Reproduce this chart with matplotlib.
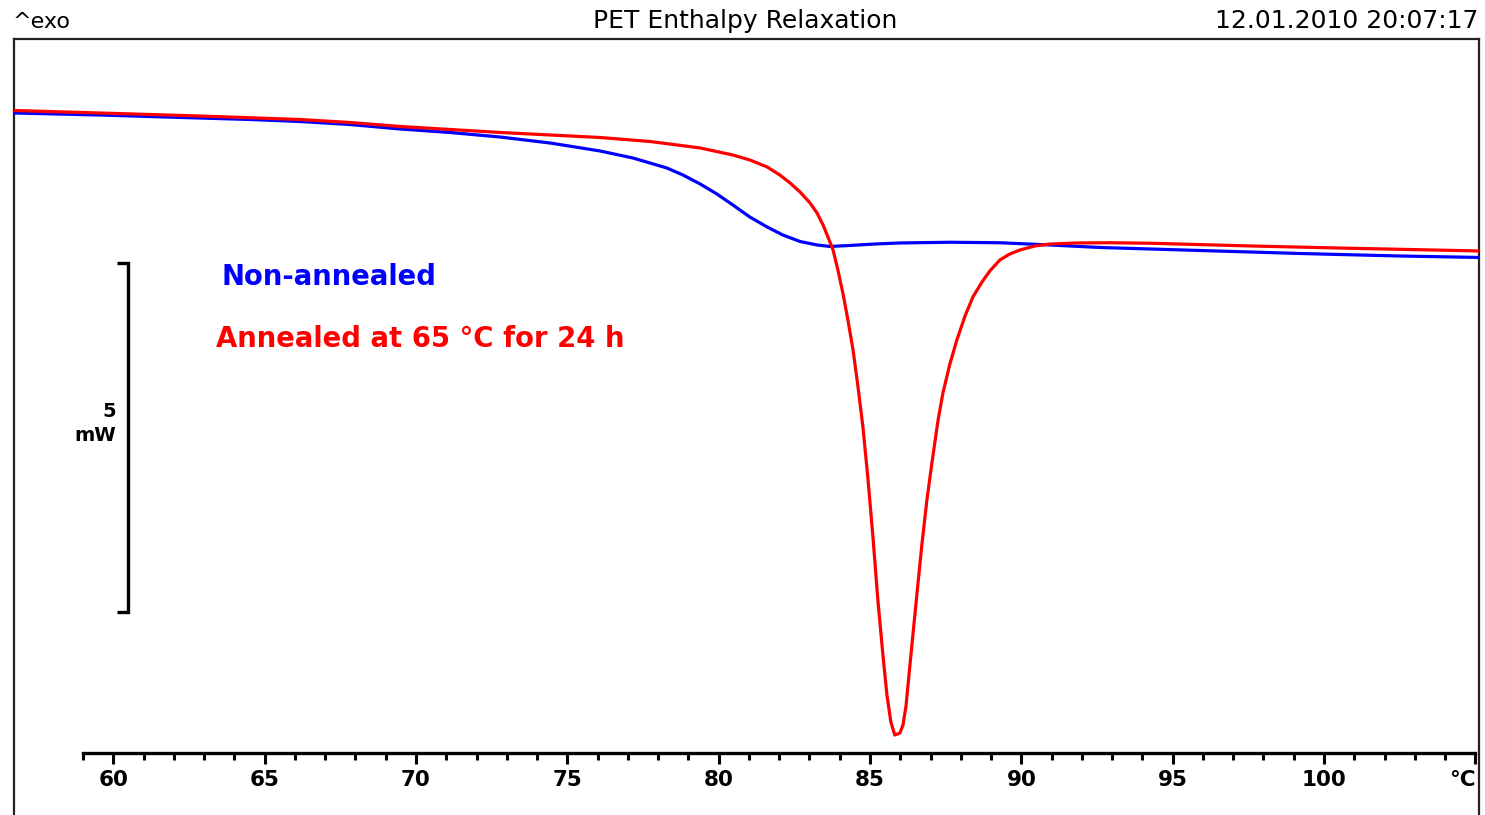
import matplotlib
matplotlib.use("Agg")
import matplotlib.pyplot as plt

# ---------------- data (temperature in °C, heat flow in mW) ----------------
blue_T = [56.72, 59.56, 62.86, 64.51, 66.17, 67.82, 69.47, 71.12, 72.78, 74.43,
          76.08, 77.17, 78.29, 78.82, 79.39, 79.94, 80.47, 81.03, 81.60, 82.12,
          82.69, 83.25, 83.68, 84.34, 85.16, 86.00, 87.65, 89.29, 90.95, 92.60,
          95.90, 99.21, 102.51, 105.15]
blue_mW = [-2.000, -2.029, -2.072, -2.093, -2.122, -2.165, -2.229, -2.279, -2.344, -2.430,
           -2.544, -2.645, -2.788, -2.888, -3.017, -3.160, -3.318, -3.490, -3.633, -3.748,
           -3.841, -3.891, -3.912, -3.898, -3.877, -3.862, -3.852, -3.859, -3.891, -3.927,
           -3.970, -4.013, -4.049, -4.070]

red_T = [56.72, 59.56, 62.86, 66.17, 67.82, 69.47, 72.78, 76.08, 77.73, 79.39,
         80.47, 81.03, 81.60, 82.02, 82.36, 82.69, 83.02, 83.25, 83.45, 83.61,
         83.78, 83.94, 84.11, 84.27, 84.44, 84.60, 84.77, 84.93, 85.10, 85.26,
         85.43, 85.56, 85.69, 85.82, 85.99, 86.09, 86.19, 86.32, 86.45, 86.58,
         86.72, 86.88, 87.05, 87.25, 87.41, 87.64, 87.87, 88.14, 88.40, 88.70,
         88.96, 89.29, 89.62, 89.95, 90.45, 90.95, 91.84, 92.93, 94.25, 97.55,
         100.86, 105.15]
red_mW = [-1.964, -2.000, -2.043, -2.093, -2.136, -2.193, -2.279, -2.351, -2.408, -2.501,
          -2.602, -2.673, -2.773, -2.888, -3.003, -3.132, -3.290, -3.433, -3.605, -3.776,
          -3.963, -4.249, -4.593, -4.965, -5.395, -5.911, -6.513, -7.229, -8.089, -8.978,
          -9.780, -10.339, -10.726, -10.912, -10.883, -10.768, -10.496, -9.908, -9.335, -8.762,
          -8.161, -7.545, -7.000, -6.398, -6.011, -5.595, -5.252, -4.908, -4.636, -4.421,
          -4.263, -4.106, -4.020, -3.963, -3.905, -3.877, -3.862, -3.859, -3.866, -3.905,
          -3.938, -3.977]

series_labels = ["Non-annealed", "Annealed at 65 °C for 24 h"]
major_ticks = [60, 65, 70, 75, 80, 85, 90, 95, 100, 105]
major_labels = ["60", "65", "70", "75", "80", "85", "90", "95", "100", "°C"]
minor_ticks = list(range(59, 106))
scale_value = 5          # mW
scale_label = "5\nmW"
title = "PET Enthalpy Relaxation"
left_header = "^exo"
right_header = "12.01.2010 20:07:17"

# ---------------- figure ----------------
W, H = 1485, 815
fig = plt.figure(figsize=(W / 100, H / 100), dpi=100)
fig.patch.set_facecolor("white")
FONT = "DejaVu Sans"

left = 14 / W
right = 1479 / W
top = 1 - 38.7 / H
ax = fig.add_axes([left, 0, right - left, top])
ax.set_xlim(56.72, 105.12)
ax.set_ylim(-12.058, -0.9355)

# frame (left, top, right)
for s in ["left", "top", "right"]:
    ax.spines[s].set_linewidth(1.6)
    ax.spines[s].set_color("#222222")
ax.tick_params(axis="y", left=False, labelleft=False)

# bottom temperature axis
axis_y = -11.169
ax.spines["bottom"].set_position(("data", axis_y))
ax.spines["bottom"].set_bounds(59, 105)
ax.spines["bottom"].set_linewidth(2.4)
ax.spines["bottom"].set_color("black")
ax.set_xticks(major_ticks)
ax.set_xticklabels(major_labels)
ax.set_xticks(minor_ticks, minor=True)
ax.tick_params(axis="x", which="major", direction="out", length=8, width=2.2,
               pad=4, labelsize=15.5, colors="black")
ax.tick_params(axis="x", which="minor", direction="out", length=5, width=2.2)
for lab in ax.get_xticklabels():
    lab.set_fontweight("bold")
    lab.set_family(FONT)
ax.get_xticklabels()[-1].set_horizontalalignment("right")

# curves
ax.plot(blue_T, blue_mW, color="#0000ff", lw=2.3, solid_joinstyle="round", zorder=3)
ax.plot(red_T, red_mW, color="#ff0000", lw=2.3, solid_joinstyle="round", zorder=4)

# labels
ax.text(63.59, -4.35, series_labels[0], color="#0000ff", fontsize=19.8,
        fontweight="bold", family=FONT, ha="left", va="center")
ax.text(63.40, -5.238, series_labels[1], color="#ff0000", fontsize=19.8,
        fontweight="bold", family=FONT, ha="left", va="center")

# scale bar 5 mW
sb_top = -4.15
sb_bot = sb_top - scale_value
sb_x = 60.49
ax.plot([60.12, sb_x, sb_x, 60.12], [sb_top, sb_top, sb_bot, sb_bot],
        color="black", lw=2.4, solid_joinstyle="miter", solid_capstyle="butt")
ax.text(60.09, (sb_top + sb_bot) / 2 + 0.2, scale_label, fontsize=14, fontweight="bold",
        family=FONT, ha="right", va="center", multialignment="right", linespacing=1.3)

# header
base = 1 - 28.3 / H
fig.text(13 / W, base, left_header, fontsize=16, family=FONT, ha="left", va="baseline")
fig.text(745 / W, base, title, fontsize=18, family=FONT, ha="center", va="baseline")
fig.text(1478 / W, base, right_header, fontsize=18, family=FONT, ha="right", va="baseline")

fig.savefig("out.png", dpi=100, facecolor="white")
